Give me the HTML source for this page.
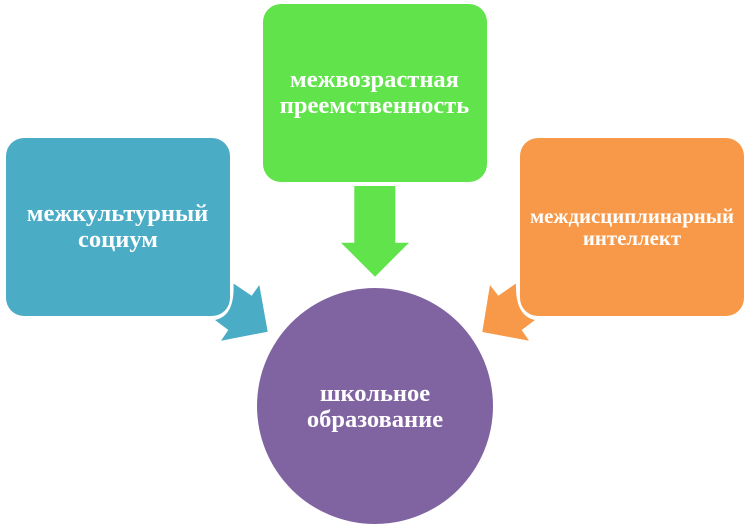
<!DOCTYPE html>
<html lang="ru">
<head>
<meta charset="utf-8">
<style>
html,body{margin:0;padding:0;background:#fff;width:752px;height:529px;overflow:hidden}
svg{display:block}
text{font-family:"Liberation Serif","Noto Serif CJK SC",serif;font-weight:bold;fill:#fff;text-anchor:middle}
</style>
</head>
<body>
<svg width="752" height="529" viewBox="0 0 752 529" xmlns="http://www.w3.org/2000/svg">
<rect x="6" y="138" width="224" height="178" rx="18" ry="18" fill="#4bacc6"/>
<rect x="263" y="4" width="224" height="178" rx="18" ry="18" fill="#61e34b"/>
<rect x="520" y="138" width="224" height="178" rx="18" ry="18" fill="#f79948"/>
<circle cx="375" cy="406" r="118" fill="#8064a2"/>
<polygon points="354.3,186 395.3,186 395.3,242.7 409,242.7 375,276.7 341,242.7 354.3,242.7" fill="#61e34b"/>
<path d="M233.5,283.5 L251.7,295.7 L259.3,285 L267.7,331.7 L221,340.7 L228.3,330 L215,320 Q235,316 233.5,283.5 Z" fill="#4bacc6"/>
<path d="M516,283.5 L498.3,295.7 L490,285 L482.3,332 L529,340.7 L521.7,330 L535,320 Q515,316 516,283.5 Z" fill="#f79948"/>
<text x="117.5" y="221" font-size="24.5">межкультурный</text>
<text x="118" y="247" font-size="24.5">социум</text>
<text x="374.5" y="87" font-size="24.5">межвозрастная</text>
<text x="374.5" y="113" font-size="24.5">преемственность</text>
<text x="632" y="223" font-size="20.8">междисциплинарный</text>
<text x="632" y="245" font-size="20.8">интеллект</text>
<text x="375" y="401" font-size="24.5">школьное</text>
<text x="375" y="427" font-size="24.5">образование</text>
</svg>
</body>
</html>
